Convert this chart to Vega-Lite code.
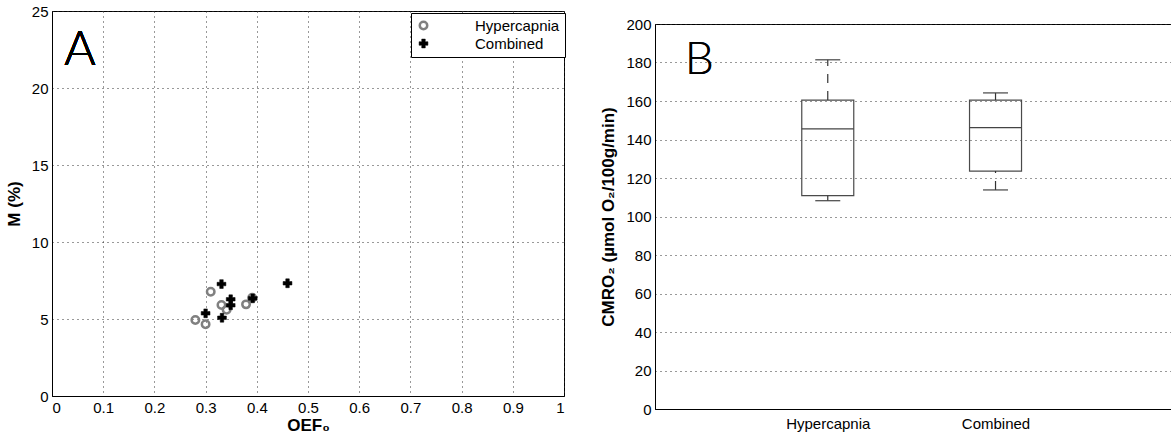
{
  "$schema": "https://vega.github.io/schema/vega-lite/v6.json",
  "background": "white",
  "padding": {"left": 4, "top": 3, "right": 0, "bottom": 0},
  "spacing": 34,
  "config": {
    "font": "Liberation Sans",
    "view": {"stroke": "#000", "strokeWidth": 1},
    "axis": {
      "labelFont": "Liberation Sans", "labelFontSize": 15, "labelColor": "#000", "labelOverlap": false,
      "titleFont": "Liberation Sans", "titleFontSize": 17, "titleFontWeight": "bold", "titleColor": "#000",
      "domainColor": "#000", "ticks": false, "labelPadding": 4,
      "gridColor": "#333", "gridDash": [1, 4], "gridWidth": 1, "gridOpacity": 1
    },
    "legend": {
      "labelFont": "Liberation Sans", "labelFontSize": 15, "labelColor": "#000"
    }
  },
  "hconcat": [
    {
      "width": 512,
      "height": 385,
      "data": {"values": [
        {"oef": 0.31, "m": 6.77, "condition": "Hypercapnia"},
        {"oef": 0.331, "m": 5.91, "condition": "Hypercapnia"},
        {"oef": 0.341, "m": 5.6, "condition": "Hypercapnia"},
        {"oef": 0.28, "m": 4.94, "condition": "Hypercapnia"},
        {"oef": 0.3, "m": 4.66, "condition": "Hypercapnia"},
        {"oef": 0.379, "m": 5.95, "condition": "Hypercapnia"},
        {"oef": 0.391, "m": 6.38, "condition": "Hypercapnia"},
        {"oef": 0.331, "m": 7.27, "condition": "Combined"},
        {"oef": 0.46, "m": 7.32, "condition": "Combined"},
        {"oef": 0.349, "m": 6.28, "condition": "Combined"},
        {"oef": 0.349, "m": 5.89, "condition": "Combined"},
        {"oef": 0.3, "m": 5.37, "condition": "Combined"},
        {"oef": 0.332, "m": 5.08, "condition": "Combined"},
        {"oef": 0.392, "m": 6.34, "condition": "Combined"}
      ]},
      "layer": [
        {
          "mark": {"type": "point", "opacity": 1},
          "encoding": {
            "x": {"field": "oef", "type": "quantitative", "title": "OEF₀",
              "scale": {"domain": [0, 1], "nice": false},
              "axis": {"values": [0, 0.1, 0.2, 0.3, 0.4, 0.5, 0.6, 0.7, 0.8, 0.9, 1], "tickCount": 12, "format": "~g", "grid": true, "titlePadding": 2, "labelPadding": 4}},
            "y": {"field": "m", "type": "quantitative", "title": "M (%)",
              "scale": {"domain": [0, 25], "nice": false},
              "axis": {"values": [0, 5, 10, 15, 20, 25], "tickCount": 7, "grid": true, "titlePadding": 8}},
            "shape": {"field": "condition", "type": "nominal", "title": null,
              "scale": {"domain": ["Hypercapnia", "Combined"], "range": ["circle", "cross"]},
              "legend": {"orient": "none", "legendX": 359, "legendY": 2, "fillColor": "white", "strokeColor": "#000", "padding": 5, "rowPadding": 1, "labelOffset": 44, "title": null}},
            "fill": {"field": "condition", "type": "nominal", "title": null,
              "scale": {"domain": ["Hypercapnia", "Combined"], "range": ["transparent", "#000"]}},
            "stroke": {"field": "condition", "type": "nominal", "title": null,
              "scale": {"domain": ["Hypercapnia", "Combined"], "range": ["#808080", "#000"]}},
            "strokeWidth": {"field": "condition", "type": "nominal", "title": null,
              "scale": {"domain": ["Hypercapnia", "Combined"], "range": [2.5, 0.5]}},
            "size": {"field": "condition", "type": "nominal", "title": null,
              "scale": {"domain": ["Hypercapnia", "Combined"], "range": [56, 78]}}
          }
        },
        {
          "mark": {"type": "text", "text": "A", "font": "Lato", "fontWeight": 300, "fontSize": 48, "align": "left", "baseline": "alphabetic", "color": "#000"},
          "encoding": {
            "x": {"datum": 0.024, "type": "quantitative", "title": "OEF₀",
              "scale": {"domain": [0, 1], "nice": false},
              "axis": {"values": [0, 0.1, 0.2, 0.3, 0.4, 0.5, 0.6, 0.7, 0.8, 0.9, 1], "tickCount": 12, "format": "~g", "grid": true, "titlePadding": 2, "labelPadding": 4}},
            "y": {"datum": 21.5, "type": "quantitative", "title": "M (%)",
              "scale": {"domain": [0, 25], "nice": false},
              "axis": {"values": [0, 5, 10, 15, 20, 25], "tickCount": 7, "grid": true, "titlePadding": 8}}
          }
        }
      ]
    },
    {
      "spacing": 4,
      "vconcat": [
        {
          "width": 520,
          "height": 1,
          "view": {"stroke": null},
          "data": {"values": []},
          "mark": {"type": "point", "opacity": 0},
          "encoding": {}
        },
        {
          "width": 520,
          "height": 385,
          "data": {"values": [
            {"group": "Hypercapnia", "pos": 1, "lo": 108.2, "q1": 110.8, "med": 145.5, "q3": 160.5, "hi": 181.4},
            {"group": "Combined", "pos": 2, "lo": 113.8, "q1": 123.6, "med": 146.2, "q3": 160.5, "hi": 164.2}
          ]},
          "encoding": {
            "x": {"field": "pos", "type": "quantitative", "title": null,
              "scale": {"domain": [0, 3.04], "nice": false},
              "axis": {"values": [1, 2], "labelExpr": "datum.value == 1 ? 'Hypercapnia' : 'Combined'", "grid": false, "labelPadding": 7}}
          },
          "layer": [
            {
              "mark": {"type": "bar", "width": 52, "fillOpacity": 0, "stroke": "#4a4a4a", "strokeWidth": 1.2},
              "encoding": {
                "y": {"field": "q1", "type": "quantitative", "title": "CMRO₂ (µmol O₂/100g/min)",
                  "scale": {"domain": [0, 200], "nice": false, "zero": false},
                  "axis": {"values": [0, 20, 40, 60, 80, 100, 120, 140, 160, 180, 200], "tickCount": 12, "grid": true, "titlePadding": 8, "labelOverlap": false}},
                "y2": {"field": "q3"}
              }
            },
            {
              "mark": {"type": "tick", "orient": "horizontal", "size": 52, "thickness": 1.2, "color": "#444", "opacity": 1},
              "encoding": {
                "y": {"field": "med", "type": "quantitative", "title": "CMRO₂ (µmol O₂/100g/min)",
                  "scale": {"domain": [0, 200], "nice": false, "zero": false},
                  "axis": {"values": [0, 20, 40, 60, 80, 100, 120, 140, 160, 180, 200], "tickCount": 12, "grid": true, "titlePadding": 8, "labelOverlap": false}}
              }
            },
            {
              "mark": {"type": "rule", "color": "#333", "strokeWidth": 1.2, "strokeDash": [9, 8]},
              "encoding": {
                "y": {"field": "q3", "type": "quantitative", "title": "CMRO₂ (µmol O₂/100g/min)",
                  "scale": {"domain": [0, 200], "nice": false, "zero": false},
                  "axis": {"values": [0, 20, 40, 60, 80, 100, 120, 140, 160, 180, 200], "tickCount": 12, "grid": true, "titlePadding": 8, "labelOverlap": false}},
                "y2": {"field": "hi"}
              }
            },
            {
              "mark": {"type": "rule", "color": "#333", "strokeWidth": 1.2, "strokeDash": [9, 8]},
              "encoding": {
                "y": {"field": "lo", "type": "quantitative", "title": "CMRO₂ (µmol O₂/100g/min)",
                  "scale": {"domain": [0, 200], "nice": false, "zero": false},
                  "axis": {"values": [0, 20, 40, 60, 80, 100, 120, 140, 160, 180, 200], "tickCount": 12, "grid": true, "titlePadding": 8, "labelOverlap": false}},
                "y2": {"field": "q1"}
              }
            },
            {
              "mark": {"type": "tick", "orient": "horizontal", "size": 25, "thickness": 1.2, "color": "#444", "opacity": 1},
              "encoding": {
                "y": {"field": "hi", "type": "quantitative", "title": "CMRO₂ (µmol O₂/100g/min)",
                  "scale": {"domain": [0, 200], "nice": false, "zero": false},
                  "axis": {"values": [0, 20, 40, 60, 80, 100, 120, 140, 160, 180, 200], "tickCount": 12, "grid": true, "titlePadding": 8, "labelOverlap": false}}
              }
            },
            {
              "mark": {"type": "tick", "orient": "horizontal", "size": 25, "thickness": 1.2, "color": "#444", "opacity": 1},
              "encoding": {
                "y": {"field": "lo", "type": "quantitative", "title": "CMRO₂ (µmol O₂/100g/min)",
                  "scale": {"domain": [0, 200], "nice": false, "zero": false},
                  "axis": {"values": [0, 20, 40, 60, 80, 100, 120, 140, 160, 180, 200], "tickCount": 12, "grid": true, "titlePadding": 8, "labelOverlap": false}}
              }
            },
            {
              "mark": {"type": "text", "text": "B", "font": "Lato", "fontWeight": 300, "fontSize": 46, "align": "left", "baseline": "alphabetic", "color": "#000"},
              "encoding": {
                "x": {"datum": 0.147, "type": "quantitative", "title": null},
                "y": {"datum": 174, "type": "quantitative", "title": "CMRO₂ (µmol O₂/100g/min)",
                  "scale": {"domain": [0, 200], "nice": false, "zero": false},
                  "axis": {"values": [0, 20, 40, 60, 80, 100, 120, 140, 160, 180, 200], "tickCount": 12, "grid": true, "titlePadding": 8, "labelOverlap": false}}
              }
            }
          ]
        }
      ]
    }
  ]
}
